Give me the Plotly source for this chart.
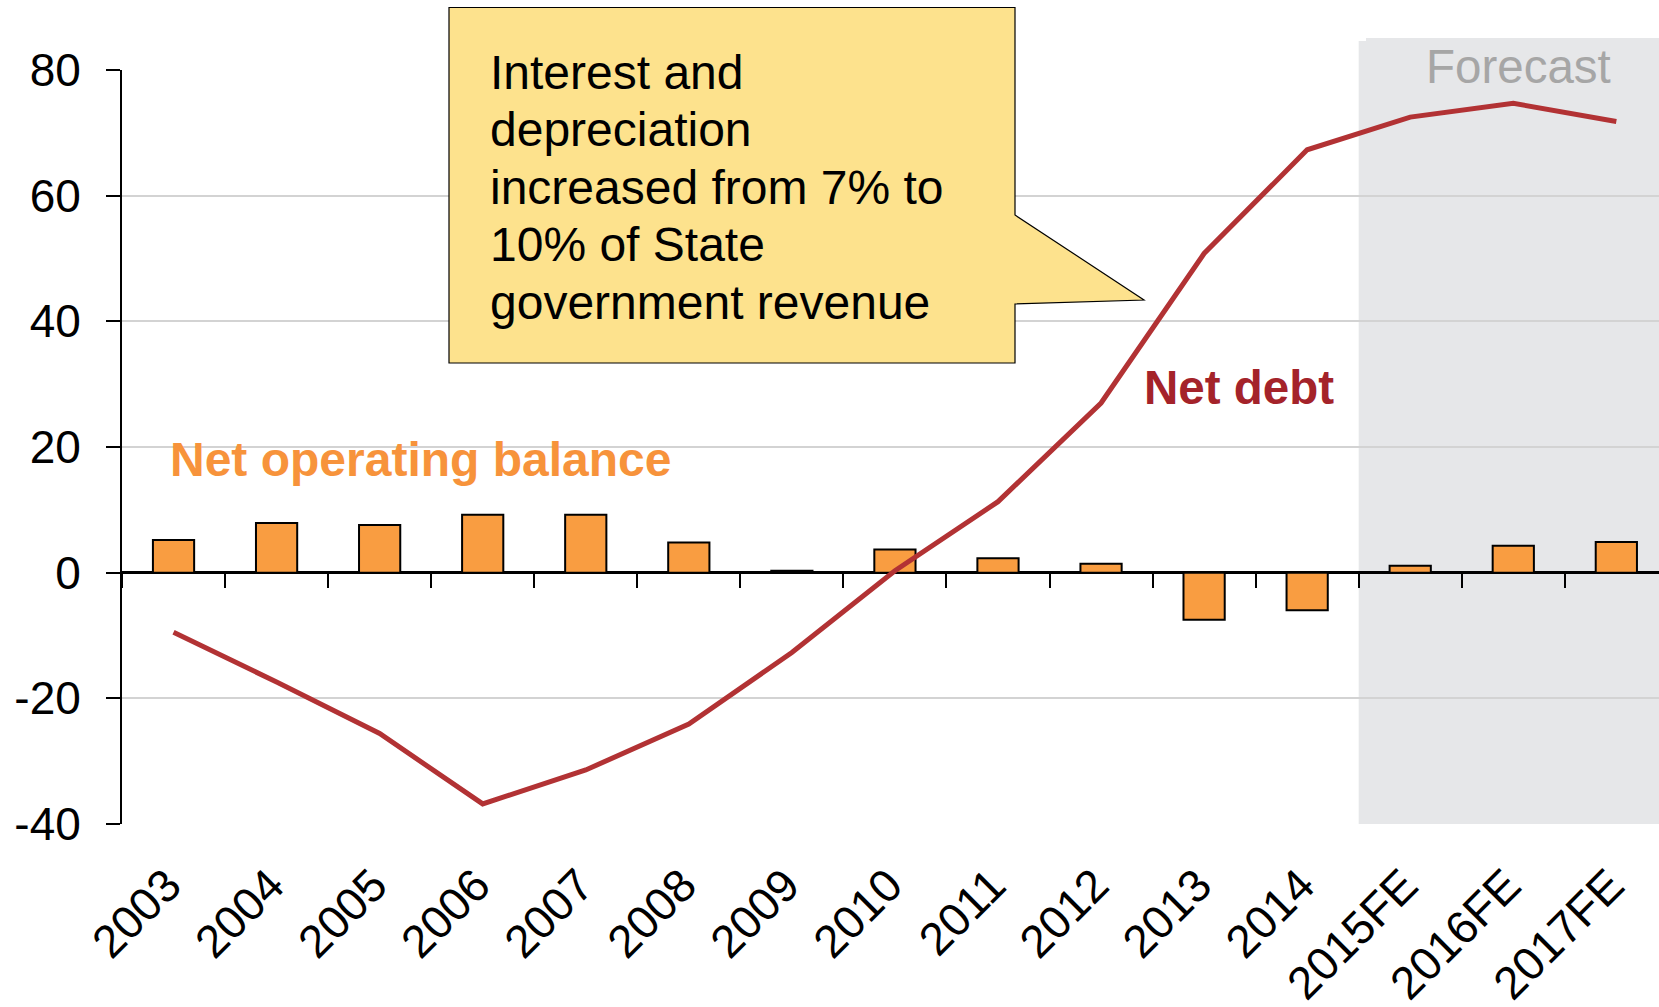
import plotly.graph_objects as go

# ---- data -------------------------------------------------------------
years = ["2003", "2004", "2005", "2006", "2007", "2008", "2009", "2010",
         "2011", "2012", "2013", "2014", "2015FE", "2016FE", "2017FE"]
net_operating_balance = [5.2, 7.9, 7.6, 9.2, 9.2, 4.8, 0.3, 3.7,
                         2.3, 1.4, -7.5, -6.0, 1.1, 4.3, 4.9]
net_debt = [-9.5, -17.4, -25.6, -36.8, -31.4, -24.1, -12.7, 0.3,
            11.3, 27.0, 50.8, 67.3, 72.5, 74.7, 71.8]
y_ticks = [-40, -20, 0, 20, 40, 60, 80]
y_tick_text = ["-40", "-20", "0", "20", "40", "60", "80"]
first_forecast = "2015FE"

callout_lines = ["Interest and", "depreciation", "increased from 7% to",
                 "10% of State", "government revenue"]

# ---- geometry ---------------------------------------------------------
W, H = 1659, 1007
M_L, M_R, M_T, M_B = 122, 0, 70, 183
PW, PH = W - M_L - M_R, H - M_T - M_B
X_RANGE = [-0.5, 14.414]
Y_RANGE = [-40, 80]

FONT = "Liberation Sans, Arial, sans-serif"
ORANGE = "#F99D41"
LABEL_ORANGE = "#F7933B"
RED_LINE = "#B23234"
RED_TEXT = "#A4232A"
FORECAST_BG = "#E6E7E9"


def px_x(px):
    return (px - M_L) / PW


def px_y(py):
    return (H - M_B - py) / PH


def cat_to_paper(v):
    return (v - X_RANGE[0]) / (X_RANGE[1] - X_RANGE[0])


fig = go.Figure()

fig.add_trace(go.Bar(
    x=years, y=net_operating_balance, width=0.4,
    marker=dict(color=ORANGE, line=dict(color="black", width=2)),
    showlegend=False, hoverinfo="x+y",
))
fig.add_trace(go.Scatter(
    x=years, y=net_debt, mode="lines",
    line=dict(color=RED_LINE, width=5),
    showlegend=False,
))
# carrier trace for the tick axis along the zero line
fig.add_trace(go.Scatter(
    x=years, y=[None] * len(years), xaxis="x2", mode="markers",
    showlegend=False, hoverinfo="skip",
))

# forecast shading
fc_x0 = cat_to_paper(years.index(first_forecast) - 0.5)
shapes = [
    dict(type="rect", xref="paper", yref="paper", layer="below",
         x0=fc_x0, x1=1.0, y0=0, y1=px_y(41),
         fillcolor=FORECAST_BG, line=dict(width=0)),
    dict(type="rect", xref="paper", yref="paper", layer="above",
         x0=px_x(1366), x1=1.0, y0=px_y(94), y1=px_y(38),
         fillcolor=FORECAST_BG, line=dict(width=0)),
]

# callout box with pointer
bx0, bx1, by0, by1 = px_x(449), px_x(1015), px_y(7.5), px_y(363)
p_top, p_bot = px_y(215), px_y(304)
tip_x, tip_y = px_x(1144), px_y(300)
path = (f"M {bx0},{by0} L {bx1},{by0} L {bx1},{p_top} L {tip_x},{tip_y} "
        f"L {bx1},{p_bot} L {bx1},{by1} L {bx0},{by1} Z")
shapes.append(dict(type="path", xref="paper", yref="paper", layer="above",
                   path=path, fillcolor="#FDE28D",
                   line=dict(color="black", width=1.2)))

annotations = [
    dict(text="Forecast", xref="paper", yref="paper", x=px_x(1518), y=px_y(67),
         xanchor="center", yanchor="middle", showarrow=False,
         font=dict(family=FONT, size=47.5, color="#A6A6A6")),
    dict(text="<b>Net operating balance</b>", xref="paper", yref="paper",
         x=px_x(168), y=px_y(459), xanchor="left", yanchor="middle",
         showarrow=False, font=dict(family=FONT, size=48, color=LABEL_ORANGE)),
    dict(text="<b>Net debt</b>", xref="paper", yref="paper",
         x=px_x(1142), y=px_y(387), xanchor="left", yanchor="middle",
         showarrow=False, font=dict(family=FONT, size=47.5, color=RED_TEXT)),
]
line_centres = [72, 129.5, 187, 244.5, 302]
for txt, cy in zip(callout_lines, line_centres):
    annotations.append(dict(
        text=txt, xref="paper", yref="paper", x=px_x(488), y=px_y(cy),
        xanchor="left", yanchor="middle", showarrow=False,
        font=dict(family=FONT, size=48, color="black")))

fig.update_layout(
    width=W, height=H,
    margin=dict(l=M_L, r=M_R, t=M_T, b=M_B, pad=0),
    paper_bgcolor="white", plot_bgcolor="white",
    font=dict(family=FONT, size=46, color="black"),
    bargap=0.6,
    shapes=shapes,
    annotations=annotations,
    xaxis=dict(
        type="category", range=X_RANGE, categoryorder="array",
        categoryarray=years, tickangle=-45, ticks="", showline=False,
        showgrid=False, zeroline=False, tickfont=dict(size=46),
        ticklabelstandoff=24, ticklabelshift=-6, automargin=False,
    ),
    xaxis2=dict(
        type="category", overlaying="x", anchor="free", side="bottom",
        position=(0 - Y_RANGE[0]) / (Y_RANGE[1] - Y_RANGE[0]),
        range=X_RANGE, categoryorder="array", categoryarray=years,
        tickson="boundaries", ticks="outside", ticklen=14, tickwidth=1.5,
        tickcolor="black", showticklabels=False, showline=False,
        showgrid=False, zeroline=False, automargin=False,
    ),
    yaxis=dict(
        range=Y_RANGE, tickvals=y_ticks, ticktext=y_tick_text,
        ticks="outside", ticklen=14,
        tickwidth=2, tickcolor="black", showline=True, linecolor="black",
        linewidth=2, showgrid=True, gridcolor="#D3D3D3", gridwidth=2,
        zeroline=True, zerolinecolor="black", zerolinewidth=2.5,
        tickfont=dict(size=46), ticklabelstandoff=16, automargin=False,
    ),
)

fig.write_html("out.html")
